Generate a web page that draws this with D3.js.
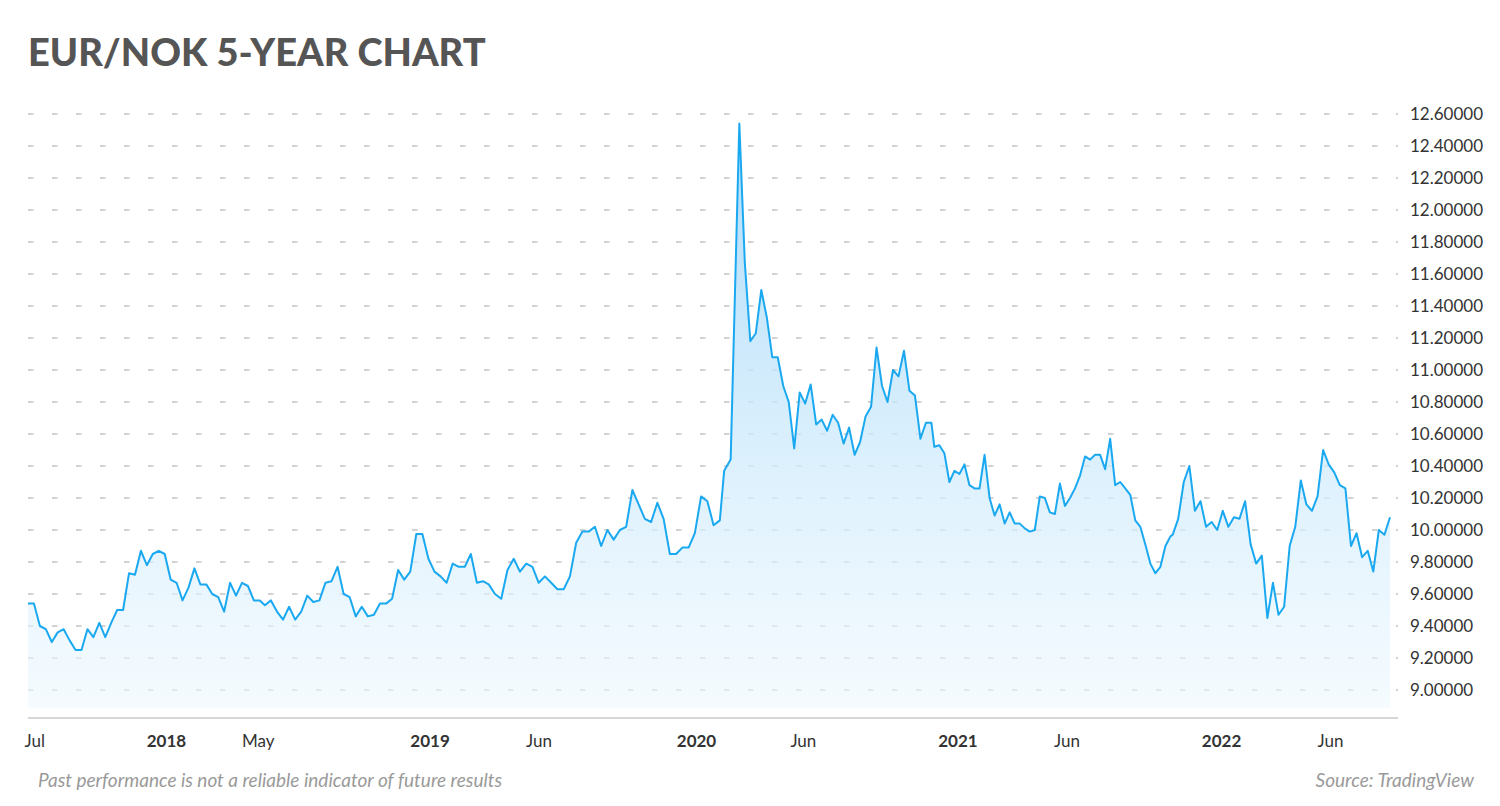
<!DOCTYPE html>
<html><head><meta charset="utf-8">
<script src="https://cdn.jsdelivr.net/npm/d3@7"></script>
<style>body{margin:0;background:#fff;font-family:Lato,"Open Sans",sans-serif}</style>
</head><body>
<svg id="c" width="1500" height="806"></svg>
<script>
const title = "EUR/NOK 5-YEAR CHART";
// weekly closes, grouped in segments; each segment spans segStart..segEnd
const seg1 = [9.54,9.54,9.40,9.38,9.30,9.36,9.38,9.31,9.25,9.25,9.38,9.33,9.42,9.33,9.42,9.50,9.50,9.73,9.72,9.87,9.78,9.85,9.87,9.85,9.69,9.67,9.56,9.64,9.76,9.66,9.66,9.60,9.58,9.49,9.67,9.59,9.67,9.65,9.56,9.56];
const seg2 = [9.53,9.56,9.49,9.44,9.52,9.44,9.49,9.59,9.55,9.56,9.67,9.68,9.77,9.60,9.58,9.46,9.52,9.46,9.47,9.54,9.54,9.57,9.75,9.69,9.74,9.975,9.975,9.82,9.74,9.71,9.67,9.79,9.77,9.77,9.85,9.67,9.68];
const seg3 = [9.66,9.60,9.57,9.75,9.82,9.74,9.79,9.77,9.67,9.71,9.67,9.63,9.63,9.71,9.92,9.99,9.99,10.02,9.90,10.00,9.94,10.00,10.02,10.25,10.16,10.07,10.05,10.17,10.07,9.85,9.85,9.89,9.89,9.98,10.21,10.18,10.03,10.06];
const seg4 = [10.37,10.44];
const seg5 = [12.54,11.67,11.18,11.23,11.50,11.33,11.08,11.08,10.90,10.80,10.51,10.86,10.79,10.91,10.66,10.69,10.62,10.72,10.67,10.54,10.64,10.47,10.55,10.71,10.77,11.14,10.90,10.80,11.00,10.96,11.12,10.87,10.84,10.57,10.67,10.67];
const seg6 = [10.52,10.53,10.48,10.30,10.37,10.35,10.41,10.28,10.26,10.26,10.47,10.20,10.09,10.16,10.04,10.11,10.04,10.04,10.01,9.99,10.00,10.21,10.20,10.11,10.10,10.29,10.15,10.20,10.26,10.34,10.46,10.44,10.47,10.47,10.38,10.57,10.28,10.30,10.26,10.22,10.06,10.02,9.91,9.79,9.73,9.77,9.90,9.96];
const seg7 = [9.97,10.07,10.30,10.40,10.12,10.18,10.02,10.05,10.00,10.12,10.02,10.08,10.07,10.18,9.91,9.79,9.84,9.45,9.67,9.47,9.52,9.90,10.02,10.31,10.16,10.12,10.21,10.50,10.41,10.36,10.28,10.26,9.90,9.98,9.83,9.87,9.74,10.00,9.97,10.08];
const segments = [seg1,seg2,seg3,seg4,seg5,seg6,seg7];
const segStart = ["2017-06-24","2018-05-18","2019-03-24","2020-02-13","2020-03-05","2020-11-30","2021-10-26"];
const segEnd   = ["2018-05-11","2019-03-16","2020-02-07","2020-02-22","2020-11-26","2021-10-23","2022-08-23"];
const yTicks = [9.0,9.2,9.4,9.6,9.8,10.0,10.2,10.4,10.6,10.8,11.0,11.2,11.4,11.6,11.8,12.0,12.2,12.4,12.6];
const xTickDates = ["2017-07-01","2018-01-01","2018-05-08","2019-01-01","2019-06-01","2020-01-05","2020-06-01","2021-01-01","2021-06-01","2022-01-01","2022-06-01"];
const xTickLabels = ["Jul","2018","May","2019","Jun","2020","Jun","2021","Jun","2022","Jun"];
const xTickBold = [false,true,false,true,false,true,false,true,false,true,false];

const data = [];
segments.forEach((s,k)=>{
  const a = new Date(segStart[k]), b = new Date(segEnd[k]);
  s.forEach((v,i)=> data.push({d: new Date(+a + (s.length>1 ? (b-a)*i/(s.length-1) : 0)), v}));
});

const svg = d3.select("#c");
const x = d3.scaleTime().domain([new Date(segStart[0]), new Date(segEnd[segEnd.length-1])]).range([28,1390]);
const y = d3.scaleLinear().domain([9,12.6]).range([690,114]);

svg.append("text").attr("x",28).attr("y",66).text(title)
  .attr("font-family","Lato").attr("font-weight",900).attr("font-size",38).attr("fill","#555");

const defs = svg.append("defs");
const g = defs.append("linearGradient").attr("id","fillg").attr("x1",0).attr("x2",0)
  .attr("gradientUnits","userSpaceOnUse").attr("y1",y(12.6)).attr("y2",708);
g.append("stop").attr("offset","0%").attr("stop-color","#9fd4f6").attr("stop-opacity",0.85);
g.append("stop").attr("offset","55%").attr("stop-color","#cdeafc").attr("stop-opacity",0.75);
g.append("stop").attr("offset","100%").attr("stop-color","#eef8fe").attr("stop-opacity",0.6);

svg.append("g").selectAll("line").data(yTicks).join("line")
  .attr("x1",28).attr("x2",1398).attr("y1",d=>y(d)).attr("y2",d=>y(d))
  .attr("stroke","#c4c4c4").attr("stroke-width",1.3).attr("stroke-dasharray","5.5 18.5");

svg.append("path").datum(data)
  .attr("d", d3.area().x(d=>x(d.d)).y0(708).y1(d=>y(d.v)))
  .attr("fill","url(#fillg)");
svg.append("path").datum(data)
  .attr("d", d3.line().x(d=>x(d.d)).y(d=>y(d.v)))
  .attr("fill","none").attr("stroke","#1aa9f0").attr("stroke-width",2).attr("stroke-linejoin","round");

svg.append("line").attr("x1",28).attr("x2",1398).attr("y1",718).attr("y2",718).attr("stroke","#c8c8c8").attr("stroke-width",1.5);

const yAxis = d3.axisRight(y).tickValues(yTicks).tickFormat(d=>d.toFixed(5)).tickSize(0).tickPadding(0);
const ya = svg.append("g").attr("transform","translate(1410,0)").call(yAxis);
ya.select(".domain").remove();
ya.selectAll("text").attr("font-family","Lato").attr("font-size",17).attr("fill","#333");

const xAxis = d3.axisBottom(x).tickValues(xTickDates.map(d=>new Date(d))).tickFormat((d,i)=>xTickLabels[i]).tickSize(0).tickPadding(0);
const xa = svg.append("g").attr("transform","translate(0,735)").call(xAxis);
xa.select(".domain").remove();
xa.selectAll("text").attr("font-family","Lato").attr("font-size",17).attr("fill","#333")
  .attr("font-weight",(d,i)=>xTickBold[i]?700:400).attr("dy","0.71em");
xa.selectAll(".tick").filter((d,i)=>i===0).select("text").attr("text-anchor","start").attr("x",-9);

svg.append("text").attr("x",38).attr("y",787).text("Past performance is not a reliable indicator of future results")
  .attr("font-family","Lato").attr("font-style","italic").attr("font-size",19).attr("fill","#9a9a9a");
svg.append("text").attr("x",1474).attr("y",787).attr("text-anchor","end").text("Source: TradingView")
  .attr("font-family","Lato").attr("font-style","italic").attr("font-size",19).attr("fill","#9a9a9a");
</script>
</body></html>
